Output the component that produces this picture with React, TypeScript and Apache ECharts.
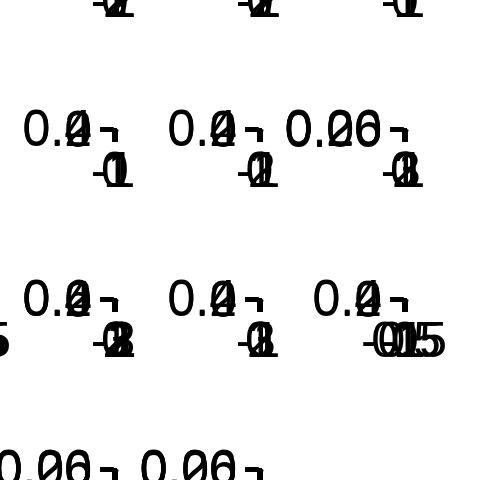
import React, { useEffect, useRef } from "react";
import * as echarts from "echarts";

// Tick labels of each small panel (row, column of the matrix)
const r0c1X = ["-2", "-1", "0", "1", "2"];
const r0c2X = ["-2", "-1", "0", "1", "2"];
const r0c3X = ["-1", "0", "1"];
const r0Y = ["0", "0.2", "0.4"];

const r1c1X = ["-1", "0", "1"];
const r1c1Y = ["0", "0.2", "0.4"];
const r1c2X = ["-1", "0", "1", "2"];
const r1c2Y = ["0", "0.2", "0.4"];
const r1c3X = ["-1", "0", "1", "2", "3"];
const r1c3Y = ["0.00", "0.06", "0.20", "0.26"];

const r2c0X = ["-0.5", "0", "0.5"];
const r2c0Y = ["0", "0.2", "0.4"];
const r2c1X = ["-3", "-2", "-1", "0", "1", "2", "3"];
const r2c1Y = ["0", "0.2", "0.4", "0.6"];
const r2c2X = ["-1", "0", "1", "2", "3"];
const r2c2Y = ["0", "0.2", "0.4"];
const r2c3X = ["-1", "-0.5", "0", "0.5", "1"];
const r2c3Y = ["0", "0.2", "0.4"];

const r3c1X = ["-1", "0", "1"];
const r3c1Y = ["0.00", "0.06", "0.20", "0.26"];
const r3c2X = ["-1", "0", "1"];
const r3c2Y = ["0.00", "0.06", "0.20", "0.26"];

const panels = [
  { row: 0, col: 1, x: r0c1X, y: r0Y },
  { row: 0, col: 2, x: r0c2X, y: r0Y },
  { row: 0, col: 3, x: r0c3X, y: r0Y },
  { row: 1, col: 1, x: r1c1X, y: r1c1Y },
  { row: 1, col: 2, x: r1c2X, y: r1c2Y },
  { row: 1, col: 3, x: r1c3X, y: r1c3Y },
  { row: 2, col: 0, x: r2c0X, y: r2c0Y },
  { row: 2, col: 1, x: r2c1X, y: r2c1Y },
  { row: 2, col: 2, x: r2c2X, y: r2c2Y },
  { row: 2, col: 3, x: r2c3X, y: r2c3Y },
  { row: 3, col: 1, x: r3c1X, y: r3c1Y },
  { row: 3, col: 2, x: r3c2X, y: r3c2Y },
];

// layout
const COL_LEFT = [-32, 113, 258, 403];
const ROW_TOP = [-42, 128, 298, 468];
const CELL_W = 4;
const CELL_H = 2;
const FONT = "Liberation Sans";

function axis(labels: string[], i: number, isX: boolean) {
  return {
    type: "category",
    gridIndex: i,
    data: labels,
    boundaryGap: false,
    axisLine: { show: true, onZero: false, lineStyle: { color: "#000", width: isX ? 3 : 2 } },
    axisTick: {
      show: true,
      interval: 0,
      length: isX ? 12 : 13,
      lineStyle: { color: "#000", width: isX ? 2 : 3 },
    },
    splitLine: { show: false },
    axisLabel: {
      show: true,
      interval: 0,
      fontSize: 50,
      fontFamily: FONT,
      color: "#000",
      margin: isX ? 15 : 21,
      hideOverlap: false,
      showMinLabel: true,
      showMaxLabel: true,
    },
  };
}

export default function App() {
  const ref = useRef<HTMLDivElement>(null);
  useEffect(() => {
    if (!ref.current) return;
    const chart = echarts.init(ref.current, undefined, { renderer: "svg" });
    const option: any = {
      animation: false,
      backgroundColor: "#fff",
      grid: panels.map((p) => ({
        left: COL_LEFT[p.col],
        top: ROW_TOP[p.row],
        width: CELL_W,
        height: CELL_H,
        show: true,
        backgroundColor: "#000",
        borderWidth: 0,
        containLabel: false,
        outerBoundsMode: "none",
      })),
      xAxis: panels.map((p, i) => axis(p.x, i, true)),
      yAxis: panels.map((p, i) => axis(p.y, i, false)),
      series: panels.map((p, i) => ({
        type: "scatter",
        xAxisIndex: i,
        yAxisIndex: i,
        data: [],
      })),
    };
    chart.setOption(option);
    return () => chart.dispose();
  }, []);
  return (
    <div
      ref={ref}
      style={{ position: "fixed", left: 0, top: 0, width: 480, height: 480 }}
    />
  );
}
